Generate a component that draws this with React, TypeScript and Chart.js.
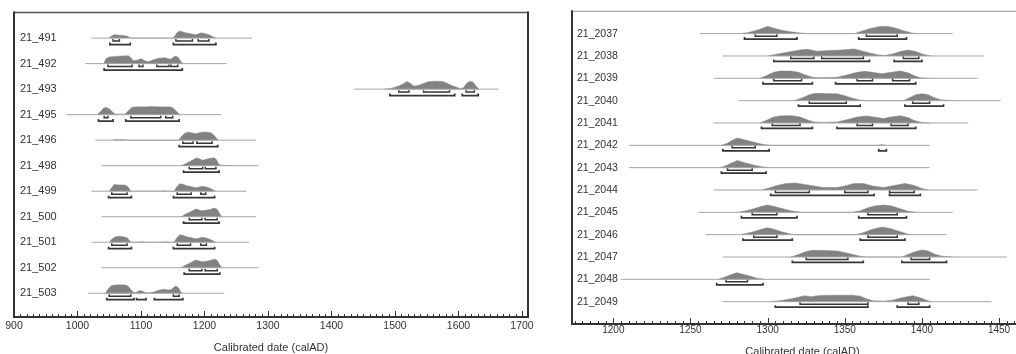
import React, { useEffect, useRef } from 'react';
import { Chart, registerables } from 'chart.js';

Chart.register(...registerables);

const FONT = "'Liberation Sans', Arial, Helvetica, sans-serif";
const FILL = '#828282';
const BASE = '#a4a4a4';
const RANGE = '#363636';
const TEXT = '#333333';

// ---------------- Left panel data ----------------
const LEFT_LABELS = ['21_491', '21_492', '21_493', '21_495', '21_496', '21_498', '21_499', '21_500', '21_501', '21_502', '21_503'];

const LEFT_SPANS: [number, number][] = [
  [1022, 1275], [1012, 1235], [1436, 1663], [983, 1226], [1028, 1281], [1038, 1285],
  [1022, 1266], [1038, 1281], [1022, 1270], [1038, 1285], [1017, 1231],
];

// relative probability density (year, height)
const LEFT_DENSITY: [number, number][][] = [
  [[1050, 0], [1054, 2.5], [1058, 3.3], [1066, 3], [1072, 2.7], [1078, 2], [1084, 0], [1150, 0], [1153, 2], [1157, 5.5], [1161, 7.3], [1165, 6.5], [1170, 5.5], [1178, 4.3], [1186, 3.3], [1191, 4.5], [1195, 5.3], [1201, 4.5], [1207, 3.5], [1213, 1.5], [1218, 0]],
  [[1041, 0], [1045, 5], [1050, 6.7], [1060, 7.3], [1070, 7.7], [1080, 8], [1084, 6], [1088, 3], [1094, 3.5], [1100, 5], [1106, 3], [1112, 2], [1120, 4], [1128, 5.5], [1138, 6], [1143, 5], [1147, 4.5], [1151, 6.5], [1155, 7.7], [1159, 6], [1163, 2], [1166, 0]],
  [[1483, 0], [1495, 1], [1505, 3], [1512, 5], [1519, 7.7], [1524, 6], [1530, 3], [1538, 4], [1546, 6], [1553, 7.5], [1565, 8], [1575, 7.8], [1582, 6], [1590, 3.5], [1597, 2], [1603, 0.5], [1608, 1.5], [1613, 6], [1618, 8], [1623, 7], [1628, 3], [1632, 0]],
  [[1031, 0], [1036, 3], [1041, 6.5], [1045, 7.3], [1050, 6], [1055, 3], [1058, 1], [1062, 0.5], [1075, 0.5], [1080, 4], [1086, 7.5], [1095, 8], [1105, 7.8], [1115, 8.2], [1125, 8], [1135, 7.8], [1145, 8], [1150, 7], [1155, 4], [1161, 0]],
  [[1055, 0], [1060, 0.5], [1075, 0.5], [1078, 0], [1159, 0], [1163, 3], [1168, 6.5], [1173, 8], [1180, 7.5], [1186, 6.5], [1192, 7.5], [1199, 8.3], [1205, 8], [1210, 7.5], [1215, 5], [1219, 2], [1222, 0]],
  [[1163, 0], [1170, 2], [1178, 4.5], [1187, 7.7], [1192, 7], [1197, 5.5], [1203, 6.5], [1210, 7.5], [1215, 8], [1219, 6], [1222, 2], [1226, 0.5], [1240, 0.3], [1245, 0]],
  [[1050, 0], [1053, 3], [1058, 6.7], [1065, 6.3], [1072, 6.3], [1076, 6], [1080, 4], [1084, 0], [1133, 0], [1137, 0.5], [1141, 0], [1152, 0], [1156, 4], [1161, 7.5], [1166, 7], [1172, 5.5], [1180, 4.5], [1186, 3.5], [1191, 4], [1197, 5], [1204, 4], [1210, 2.5], [1218, 0]],
  [[1163, 0], [1170, 2.5], [1178, 5], [1186, 7.7], [1191, 7], [1195, 6], [1202, 6.5], [1210, 7.5], [1215, 8.7], [1220, 7.5], [1224, 3], [1227, 0]],
  [[1050, 0], [1054, 3], [1060, 5.5], [1066, 6], [1072, 5.5], [1078, 4.5], [1084, 0], [1094, 0], [1100, 0.5], [1108, 0], [1133, 0], [1138, 0.5], [1143, 0], [1152, 0], [1156, 4], [1161, 7.5], [1166, 7], [1172, 5.5], [1180, 4.5], [1186, 3.5], [1191, 4], [1197, 5], [1204, 4], [1210, 2.5], [1218, 0]],
  [[1163, 0], [1170, 2.5], [1178, 5], [1186, 7.7], [1191, 7], [1196, 6], [1203, 6.5], [1210, 7.5], [1215, 8.7], [1220, 7.5], [1224, 3], [1227, 0]],
  [[1044, 0], [1048, 4], [1053, 7.5], [1058, 8.3], [1068, 8.5], [1076, 8.3], [1080, 7], [1085, 3], [1089, 0.5], [1093, 1], [1098, 2.7], [1103, 2], [1107, 0.5], [1115, 0.5], [1121, 1.5], [1128, 3], [1136, 4], [1142, 3.3], [1147, 3.5], [1152, 6], [1155, 7.3], [1159, 5.5], [1162, 2], [1165, 0]],
];

const LEFT_R68: [number, number][][] = [
  [[1056, 1066], [1155, 1181], [1190, 1207]],
  [[1048, 1086], [1097, 1103], [1125, 1144], [1147, 1158]],
  [[1506, 1522], [1545, 1586], [1612, 1625]],
  [[1042, 1048], [1084, 1131], [1139, 1150]],
  [[1166, 1182], [1188, 1212]],
  [[1176, 1197], [1201, 1218]],
  [[1054, 1078], [1157, 1179], [1194, 1202]],
  [[1176, 1196], [1201, 1220]],
  [[1054, 1078], [1157, 1178], [1194, 1203]],
  [[1176, 1196], [1201, 1220]],
  [[1050, 1084], [1151, 1160]],
];

const LEFT_R95: [number, number][][] = [
  [[1051, 1083], [1151, 1218]],
  [[1042, 1165]],
  [[1492, 1594], [1606, 1631]],
  [[1033, 1056], [1076, 1160]],
  [[1160, 1221]],
  [[1167, 1223]],
  [[1049, 1085], [1151, 1216]],
  [[1167, 1223]],
  [[1049, 1085], [1151, 1216]],
  [[1168, 1224]],
  [[1046, 1089], [1093, 1108], [1121, 1166]],
];

// ---------------- Right panel data ----------------
const RIGHT_LABELS = ['21_2037', '21_2038', '21_2039', '21_2040', '21_2041', '21_2042', '21_2043', '21_2044', '21_2045', '21_2046', '21_2047', '21_2048', '21_2049'];

const RIGHT_SPANS: [number, number][] = [
  [1256, 1420], [1271, 1440], [1265, 1436], [1281, 1451], [1265, 1430], [1210, 1405], [1210, 1405],
  [1265, 1436], [1255, 1420], [1260, 1416], [1271, 1455], [1205, 1405], [1271, 1445],
];

const RIGHT_DENSITY: [number, number][][] = [
  [[1282, 0], [1287, 1], [1292, 3], [1296, 5], [1300, 7.3], [1304, 5.5], [1309, 3.5], [1315, 1.8], [1322, 0.5], [1326, 0], [1356, 0], [1360, 2], [1366, 5], [1372, 7], [1377, 7.3], [1382, 6], [1388, 3], [1394, 0.5], [1398, 0]],
  [[1300, 0], [1305, 1.5], [1310, 3], [1317, 5], [1322, 6.3], [1326, 6.7], [1332, 4.8], [1340, 5.5], [1348, 6], [1356, 7], [1360, 5.5], [1366, 3], [1372, 1], [1376, 0.5], [1381, 2], [1386, 4.5], [1391, 6], [1396, 4.5], [1401, 1.5], [1406, 0]],
  [[1295, 0], [1299, 2.5], [1304, 6], [1308, 7.3], [1315, 7.3], [1320, 6], [1325, 3], [1329, 1], [1335, 0.5], [1345, 1], [1352, 3.5], [1358, 6], [1363, 7], [1368, 6], [1374, 4.5], [1380, 6], [1386, 7.3], [1391, 5.5], [1395, 2.5], [1399, 0.5], [1405, 0]],
  [[1317, 0], [1322, 2.5], [1327, 6], [1331, 7.3], [1340, 7], [1345, 6.8], [1350, 5], [1355, 2.5], [1360, 0.5], [1365, 0], [1388, 0], [1392, 3], [1396, 6], [1400, 7], [1404, 6], [1408, 3], [1412, 1], [1420, 0]],
  [[1295, 0], [1299, 2.5], [1304, 6], [1309, 7.3], [1316, 7.3], [1321, 6], [1326, 3], [1330, 1], [1336, 0.5], [1345, 1], [1352, 3.5], [1358, 6], [1364, 7], [1369, 6], [1375, 4.5], [1380, 6], [1386, 7.3], [1391, 5.5], [1395, 2.5], [1400, 0.5], [1405, 0]],
  [[1270, 0], [1274, 2], [1277, 5], [1280.5, 7.3], [1285, 5.5], [1290, 3.5], [1295, 1.5], [1301, 0], [1371, 0], [1374, 0.6], [1377, 0]],
  [[1269, 0], [1273, 2], [1277, 5], [1280.5, 7.3], [1285, 5], [1290, 3], [1295, 1.2], [1301, 0]],
  [[1296, 0], [1301, 2], [1306, 4.5], [1312, 6.5], [1318, 7], [1324, 5.5], [1330, 4], [1336, 2.5], [1345, 2.5], [1350, 4], [1356, 6.5], [1362, 6.5], [1368, 4], [1375, 2.5], [1382, 4.5], [1389, 6.5], [1395, 4.5], [1400, 1.5], [1404, 0]],
  [[1281, 0], [1286, 1.5], [1291, 3.5], [1296, 6], [1300, 7.3], [1305, 5.5], [1310, 3.5], [1315, 1.5], [1319, 0.5], [1322, 0], [1355, 0], [1360, 1.5], [1365, 4.5], [1370, 6.5], [1375, 7.3], [1380, 6.5], [1386, 3.5], [1391, 1], [1396, 0]],
  [[1282, 0], [1287, 1.5], [1292, 3.5], [1296, 5.5], [1300, 7], [1304, 5.5], [1309, 3], [1314, 1], [1317, 0], [1357, 0], [1362, 2], [1367, 5], [1372, 7], [1375, 7.5], [1380, 6], [1386, 3], [1390, 1], [1393, 0]],
  [[1315, 0], [1320, 2.5], [1325, 5.5], [1329, 6.7], [1338, 6.5], [1345, 6], [1350, 4.5], [1355, 2.5], [1360, 0.8], [1364, 0], [1387, 0], [1391, 2.5], [1395, 5], [1400, 7], [1404, 6], [1408, 3], [1413, 0.8], [1420, 0]],
  [[1268, 0], [1272, 2], [1276, 4.5], [1280, 6.7], [1284, 5], [1289, 3], [1293, 1.2], [1298, 0]],
  [[1301, 0], [1308, 1], [1314, 2.5], [1320, 4.5], [1324, 6], [1328, 5], [1334, 6.3], [1344, 6.5], [1355, 6.5], [1360, 5.5], [1364, 3], [1368, 1], [1375, 0.5], [1381, 1.5], [1387, 4], [1394, 6], [1399, 4], [1403, 1.5], [1406, 0]],
];

const RIGHT_R68: [number, number][][] = [
  [[1292, 1306], [1364, 1384]],
  [[1315, 1330], [1335, 1362], [1388, 1398]],
  [[1304, 1322], [1358, 1368], [1381, 1392]],
  [[1327, 1351], [1394, 1405]],
  [[1303, 1321], [1358, 1368], [1380, 1391]],
  [[1277, 1292]],
  [[1274, 1290]],
  [[1305, 1327], [1350, 1365], [1379, 1395]],
  [[1290, 1306], [1365, 1384]],
  [[1291, 1306], [1365, 1384]],
  [[1325, 1352], [1393, 1405]],
  [[1273, 1287]],
  [[1321, 1365], [1391, 1398]],
];

const RIGHT_R95: [number, number][][] = [
  [[1285, 1319], [1359, 1390]],
  [[1304, 1366], [1382, 1400]],
  [[1297, 1329], [1344, 1396]],
  [[1320, 1360], [1389, 1414]],
  [[1296, 1329], [1345, 1396]],
  [[1271, 1301], [1372, 1377]],
  [[1270, 1299]],
  [[1302, 1369], [1379, 1399]],
  [[1283, 1319], [1359, 1390]],
  [[1284, 1316], [1360, 1389]],
  [[1316, 1362], [1387, 1416]],
  [[1267, 1297]],
  [[1305, 1365], [1384, 1405]],
];

const AXIS_TITLE = 'Calibrated date (calAD)';

type PanelCfg = {
  labels: string[];
  spans: [number, number][];
  density: [number, number][][];
  r68: [number, number][][];
  r95: [number, number][][];
  xMin: number; xMax: number; step: number; minor: number;
  yMax: number; rowPx: number; off68: number; off95: number;
  left: number; width: number; height: number;
  padLeft: number; padRight: number; padTop: number;
  xAxisHeight: number; tickPad: number; tickSize: number; titlePadBottom: number;
  labelSize: number; labelPad: number;
  topColor: string; topWidth: number; rightBorder: boolean;
};

const framePlugin = {
  id: 'frame',
  afterDatasetsDraw(chart: any, _args: any, opts: any) {
    const { ctx, chartArea } = chart;
    const { left, right, top, bottom } = chartArea;
    const x = chart.scales.x;
    const seg = (x1: number, y1: number, x2: number, y2: number) => {
      ctx.beginPath(); ctx.moveTo(x1, y1); ctx.lineTo(x2, y2); ctx.stroke();
    };
    ctx.save();
    ctx.lineCap = 'butt';
    ctx.strokeStyle = opts.topColor; ctx.lineWidth = opts.topWidth;
    seg(left, top, right, top);
    ctx.strokeStyle = '#333'; ctx.lineWidth = 2;
    seg(left, top - 1, left, bottom + 1);
    if (opts.rightBorder) seg(right, top - 1, right, bottom + 1);
    seg(left - 1, bottom, right + 1, bottom);
    ctx.lineWidth = 1;
    const minor = opts.minor, major = opts.major;
    for (let v = Math.ceil(x.min / minor) * minor; v <= x.max + 1e-6; v += minor) {
      const px = Math.round(x.getPixelForValue(v)) + 0.5;
      const isMajor = Math.abs(v / major - Math.round(v / major)) < 1e-6;
      seg(px, bottom + (isMajor ? 1 : 0), px, bottom - (isMajor ? 6 : 3));
    }
    ctx.restore();
  },
};

function bracket(a: number, b: number, y: number, t: number, color: string, w: number) {
  return {
    data: [{ x: a, y: y - t }, { x: a, y }, { x: b, y }, { x: b, y: y - t }],
    borderColor: color, borderWidth: w, pointRadius: 0, fill: false, order: 0,
  };
}

function buildDatasets(c: PanelCfg) {
  const ds: any[] = [];
  c.labels.forEach((_, i) => {
    ds.push({
      data: c.density[i].map(([x, h]) => ({ x, y: i - h / c.rowPx })),
      fill: { value: i }, backgroundColor: FILL, borderColor: FILL, borderWidth: 0.5,
      pointRadius: 0, order: 2,
    });
    ds.push({
      data: c.spans[i].map((x) => ({ x, y: i })),
      borderColor: BASE, borderWidth: 1, pointRadius: 0, fill: false, order: 1,
    });
    const t = 2 / c.rowPx;
    c.r68[i].forEach(([a, b]) => ds.push(bracket(a, b, i + c.off68 / c.rowPx, t, RANGE, 1.5)));
    c.r95[i].forEach(([a, b]) => ds.push(bracket(a, b, i + c.off95 / c.rowPx, t, RANGE, 1.7)));
  });
  return ds;
}

function Panel({ c }: { c: PanelCfg }) {
  const ref = useRef<HTMLCanvasElement>(null);
  useEffect(() => {
    const chart = new Chart(ref.current as HTMLCanvasElement, {
      type: 'line',
      data: { datasets: buildDatasets(c) },
      plugins: [framePlugin as any],
      options: {
        responsive: false,
        animation: false,
        devicePixelRatio: 1,
        layout: { padding: { left: c.padLeft, right: c.padRight, top: c.padTop, bottom: 0 } },
        plugins: {
          legend: { display: false },
          tooltip: { enabled: false },
          frame: { topColor: c.topColor, topWidth: c.topWidth, rightBorder: c.rightBorder, minor: c.minor, major: c.step },
        } as any,
        scales: {
          x: {
            type: 'linear', position: 'bottom', min: c.xMin, max: c.xMax,
            grid: { display: false, drawTicks: false }, border: { display: false },
            afterBuildTicks: (s: any) => {
              const t: any[] = [];
              for (let v = Math.ceil(c.xMin / c.step) * c.step; v <= c.xMax; v += c.step) t.push({ value: v });
              s.ticks = t;
            },
            ticks: {
              autoSkip: false, maxRotation: 0,
              padding: c.tickPad, color: TEXT, font: { family: FONT, size: c.tickSize },
              callback: (v: any) => String(v),
            },
            title: {
              display: true, text: AXIS_TITLE, color: TEXT,
              font: { family: FONT, size: 11 }, padding: { top: 0, bottom: c.titlePadBottom },
            },
            afterFit: (s: any) => { s.height = c.xAxisHeight; },
          },
          y: {
            type: 'linear', reverse: true, min: -1, max: c.yMax,
            grid: { display: false, drawTicks: false }, border: { display: false },
            afterBuildTicks: (s: any) => { s.ticks = c.labels.map((_, i) => ({ value: i })); },
            ticks: {
              mirror: true, padding: c.labelPad, color: TEXT, autoSkip: false,
              font: { family: FONT, size: c.labelSize },
              callback: (v: any) => c.labels[Math.round(Number(v))] ?? '',
            },
            afterFit: (s: any) => { s.width = 0; },
          },
        } as any,
      },
    });
    return () => chart.destroy();
  }, []);
  return (
    <canvas ref={ref} width={c.width} height={c.height}
      style={{ position: 'absolute', left: c.left, top: 0, width: c.width, height: c.height }} />
  );
}

const LEFT_CFG: PanelCfg = {
  labels: LEFT_LABELS, spans: LEFT_SPANS, density: LEFT_DENSITY, r68: LEFT_R68, r95: LEFT_R95,
  xMin: 900, xMax: 1709.5, step: 100, minor: 10,
  yMax: 10.93, rowPx: 25.73, off68: 3, off95: 6.5,
  left: 0, width: 540, height: 360, padLeft: 14, padRight: 12, padTop: 10,
  xAxisHeight: 43, tickPad: 3, tickSize: 10.5, titlePadBottom: 5, labelSize: 11, labelPad: 6,
  topColor: '#555', topWidth: 1.5, rightBorder: true,
};

const RIGHT_CFG: PanelCfg = {
  labels: RIGHT_LABELS, spans: RIGHT_SPANS, density: RIGHT_DENSITY, r68: RIGHT_R68, r95: RIGHT_R95,
  xMin: 1173.2, xMax: 1472, step: 50, minor: 5,
  yMax: 13, rowPx: 22.43, off68: 2.5, off95: 5.5,
  left: 560, width: 473, height: 360, padLeft: 12, padRight: 0, padTop: 10,
  xAxisHeight: 36, tickPad: 0, tickSize: 10, titlePadBottom: 1, labelSize: 10.5, labelPad: 5,
  topColor: '#999', topWidth: 1, rightBorder: false,
};

export default function App() {
  return (
    <div style={{ position: 'fixed', left: 0, top: 0, width: 1016, height: 354, overflow: 'hidden', background: '#fff' }}>
      <Panel c={LEFT_CFG} />
      <Panel c={RIGHT_CFG} />
    </div>
  );
}
